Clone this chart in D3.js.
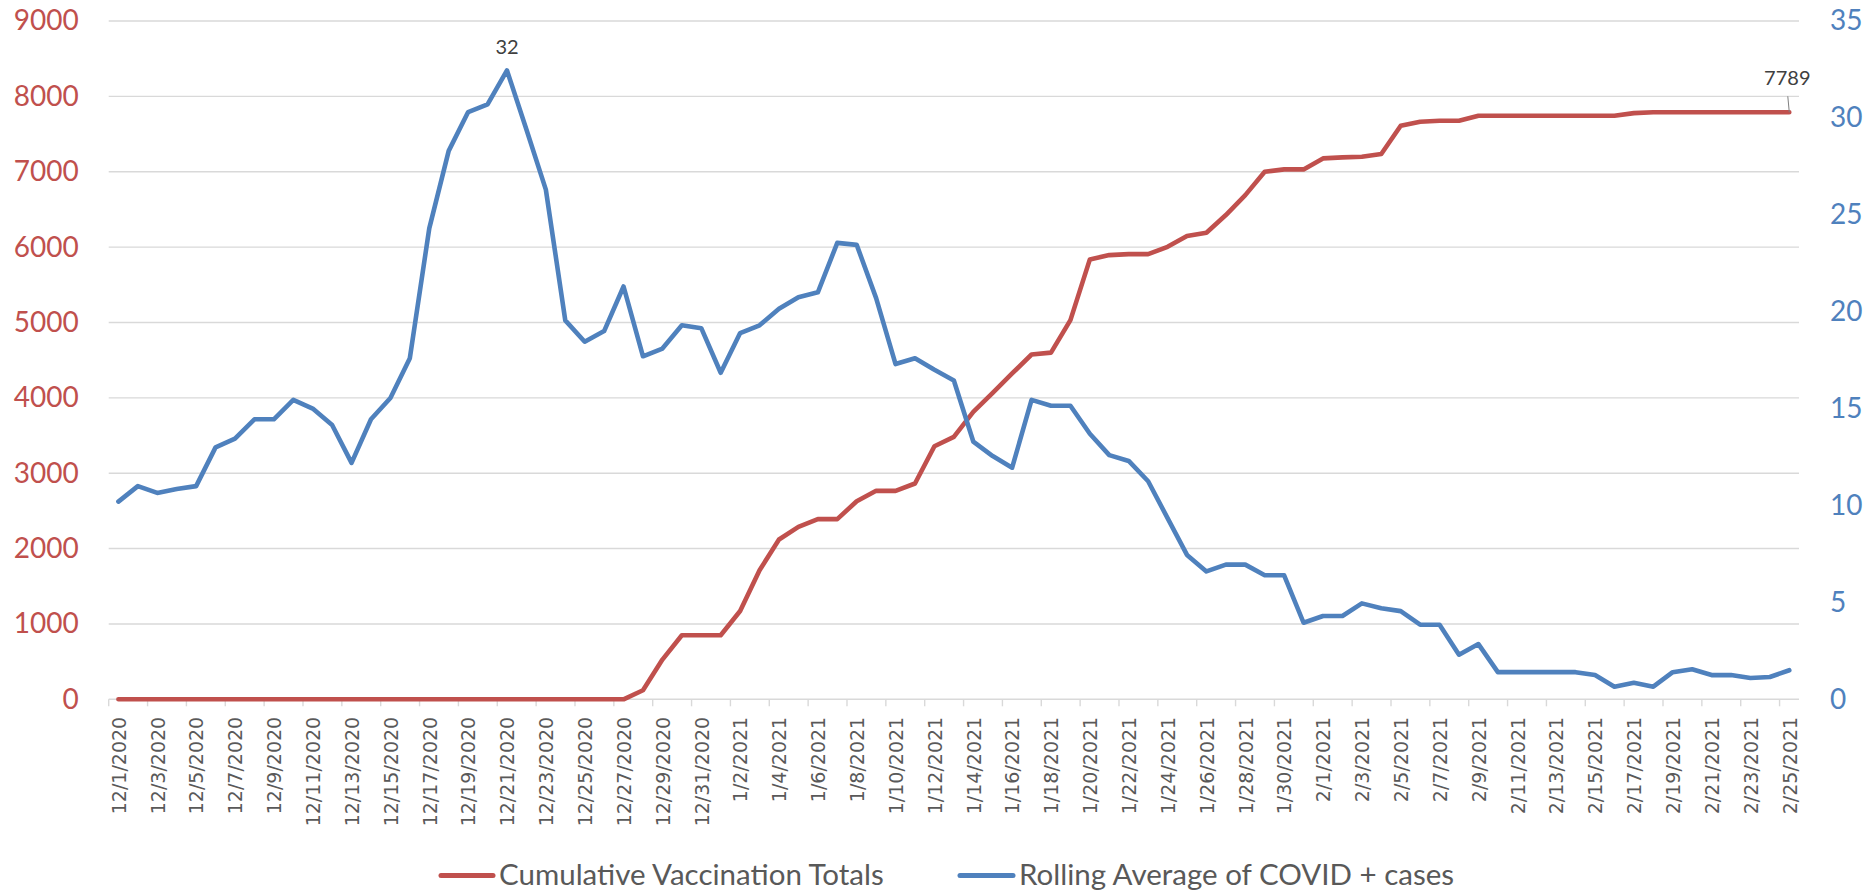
<!DOCTYPE html>
<html><head><meta charset="utf-8">
<script src="https://cdn.jsdelivr.net/npm/d3@7"></script>
<style>body{margin:0;background:#fff;} svg{display:block;}</style>
</head><body>
<svg id="chart" width="1873" height="892"></svg>
<script>
const categories = [
"12/1/2020","12/2/2020","12/3/2020","12/4/2020","12/5/2020","12/6/2020","12/7/2020","12/8/2020","12/9/2020","12/10/2020",
"12/11/2020","12/12/2020","12/13/2020","12/14/2020","12/15/2020","12/16/2020","12/17/2020","12/18/2020","12/19/2020","12/20/2020",
"12/21/2020","12/22/2020","12/23/2020","12/24/2020","12/25/2020","12/26/2020","12/27/2020","12/28/2020","12/29/2020","12/30/2020","12/31/2020",
"1/1/2021","1/2/2021","1/3/2021","1/4/2021","1/5/2021","1/6/2021","1/7/2021","1/8/2021","1/9/2021","1/10/2021",
"1/11/2021","1/12/2021","1/13/2021","1/14/2021","1/15/2021","1/16/2021","1/17/2021","1/18/2021","1/19/2021","1/20/2021",
"1/21/2021","1/22/2021","1/23/2021","1/24/2021","1/25/2021","1/26/2021","1/27/2021","1/28/2021","1/29/2021","1/30/2021","1/31/2021",
"2/1/2021","2/2/2021","2/3/2021","2/4/2021","2/5/2021","2/6/2021","2/7/2021","2/8/2021","2/9/2021","2/10/2021",
"2/11/2021","2/12/2021","2/13/2021","2/14/2021","2/15/2021","2/16/2021","2/17/2021","2/18/2021","2/19/2021","2/20/2021",
"2/21/2021","2/22/2021","2/23/2021","2/24/2021","2/25/2021"
];
const vaccinationTotals = [
0,0,0,0,0,0,0,0,0,0,
0,0,0,0,0,0,0,0,0,0,
0,0,0,0,0,0,0,120,527,850,850,
850,1172,1712,2120,2288,2390,2390,2628,2766,2766,
2863,3358,3482,3814,4066,4323,4575,4600,5031,5837,
5894,5907,5907,6004,6146,6190,6425,6690,7000,7031,7031,
7177,7190,7199,7235,7610,7664,7677,7677,7743,7743,
7743,7743,7743,7743,7743,7743,7778,7789,7789,7789,
7789,7789,7789,7789,7789
];
const rollingAverage = [
10.2,11.0,10.65,10.85,11.0,13.0,13.45,14.45,14.45,15.45,
15.0,14.15,12.2,14.45,15.55,17.6,24.3,28.3,30.3,30.7,
32.45,29.4,26.3,19.55,18.45,19.0,21.3,17.7,18.1,19.3,19.15,
16.85,18.9,19.3,20.15,20.75,21.0,23.55,23.45,20.7,17.3,
17.6,17.0,16.45,13.3,12.55,11.95,15.45,15.15,15.15,13.7,
12.6,12.3,11.25,9.35,7.45,6.6,6.95,6.95,6.4,6.4,3.95,
4.3,4.3,4.95,4.7,4.55,3.85,3.85,2.3,2.85,1.4,
1.4,1.4,1.4,1.4,1.25,0.65,0.85,0.65,1.4,1.55,
1.25,1.25,1.1,1.15,1.5
];
const leftTicks = [0,1000,2000,3000,4000,5000,6000,7000,8000,9000];
const rightTicks = [0,5,10,15,20,25,30,35];
const seriesNames = ["Cumulative Vaccination Totals","Rolling Average of COVID + cases"];
const seriesColors = ["#C0504D","#4F81BD"];

const svg = d3.select("#chart");
const plot = {left:108.7, right:1799, top:21, bottom:699.3};
const x = d3.scalePoint().domain(categories).range([plot.left, plot.right]).padding(0.5);
const step = x.step();
const yL = d3.scaleLinear().domain([0,9000]).range([plot.bottom, plot.top]);
const yR = d3.scaleLinear().domain([0,35]).range([plot.bottom, plot.top]);

// gridlines
svg.append("g").selectAll("line").data(leftTicks).join("line")
  .attr("x1", plot.left).attr("x2", plot.right)
  .attr("y1", d=>yL(d)).attr("y2", d=>yL(d))
  .attr("stroke", "#D9D9D9").attr("stroke-width", 1.4);

// category tick marks (every 2 categories, on boundaries)
svg.append("g").selectAll("line").data(categories.filter((d,i)=>i%2===0)).join("line")
  .attr("x1", d=>x(d)-step/2).attr("x2", d=>x(d)-step/2)
  .attr("y1", plot.bottom).attr("y2", plot.bottom+7)
  .attr("stroke", "#D9D9D9").attr("stroke-width", 1.4);

// left axis
const gl = svg.append("g").attr("transform", `translate(${plot.left},0)`)
  .call(d3.axisLeft(yL).tickValues(leftTicks).tickFormat(d3.format("d")).tickSize(0).tickPadding(30));
gl.select(".domain").remove();
gl.selectAll("text").attr("fill", seriesColors[0]).style("font-family","Lato").style("font-size","28px");

// right axis
const gr = svg.append("g").attr("transform", `translate(${plot.right},0)`)
  .call(d3.axisRight(yR).tickValues(rightTicks).tickFormat(d3.format("d")).tickSize(0).tickPadding(31));
gr.select(".domain").remove();
gr.selectAll("text").attr("fill", seriesColors[1]).style("font-family","Lato").style("font-size","28px");

// bottom axis labels
const gb = svg.append("g").attr("transform", `translate(0,${plot.bottom})`)
  .call(d3.axisBottom(x).tickValues(categories.filter((d,i)=>i%2===0)).tickSize(0));
gb.select(".domain").remove();
gb.selectAll("text")
  .attr("transform","rotate(-90)")
  .attr("x", -17.5).attr("y", 0).attr("dy","0.36em")
  .attr("text-anchor","end")
  .attr("fill","#595959")
  .style("font-family","DejaVu Sans").style("font-size","19px");

// lines
const lineL = d3.line().x((d,i)=>x(categories[i])).y(d=>yL(d));
const lineR = d3.line().x((d,i)=>x(categories[i])).y(d=>yR(d));
svg.append("path").datum(vaccinationTotals).attr("d", lineL)
  .attr("fill","none").attr("stroke", seriesColors[0]).attr("stroke-width",4.6)
  .attr("stroke-linejoin","round").attr("stroke-linecap","round");
svg.append("path").datum(rollingAverage).attr("d", lineR)
  .attr("fill","none").attr("stroke", seriesColors[1]).attr("stroke-width",4.6)
  .attr("stroke-linejoin","round").attr("stroke-linecap","round");

// data labels
const peakIdx = rollingAverage.indexOf(d3.max(rollingAverage));
svg.append("text").attr("x", x(categories[peakIdx])).attr("y", yR(rollingAverage[peakIdx]) - 16)
  .attr("text-anchor","middle").attr("fill","#404040")
  .style("font-family","Lato").style("font-size","20px")
  .text(d3.format(".0f")(rollingAverage[peakIdx]));
const lastIdx = vaccinationTotals.length-1;
const lx = x(categories[lastIdx]), ly = yL(vaccinationTotals[lastIdx]);
svg.append("line").attr("x1", lx-1.5).attr("y1", ly-16).attr("x2", lx).attr("y2", ly)
  .attr("stroke","#7F7F7F").attr("stroke-width",1);
svg.append("text").attr("x", lx-2).attr("y", ly-27)
  .attr("text-anchor","middle").attr("fill","#404040")
  .style("font-family","Lato").style("font-size","20px")
  .text(vaccinationTotals[lastIdx]);

// legend
const legendItems = [
  {name: seriesNames[0], color: seriesColors[0], x0: 441, x1: 493, tx: 499},
  {name: seriesNames[1], color: seriesColors[1], x0: 960, x1: 1013, tx: 1019}
];
const lg = svg.append("g");
legendItems.forEach(it=>{
  lg.append("line").attr("x1",it.x0).attr("x2",it.x1).attr("y1",875.5).attr("y2",875.5)
    .attr("stroke",it.color).attr("stroke-width",5).attr("stroke-linecap","round");
  lg.append("text").attr("x",it.tx).attr("y",885).attr("fill","#595959")
    .style("font-family","Lato").style("font-size","29.5px").text(it.name);
});
</script>
</body></html>
